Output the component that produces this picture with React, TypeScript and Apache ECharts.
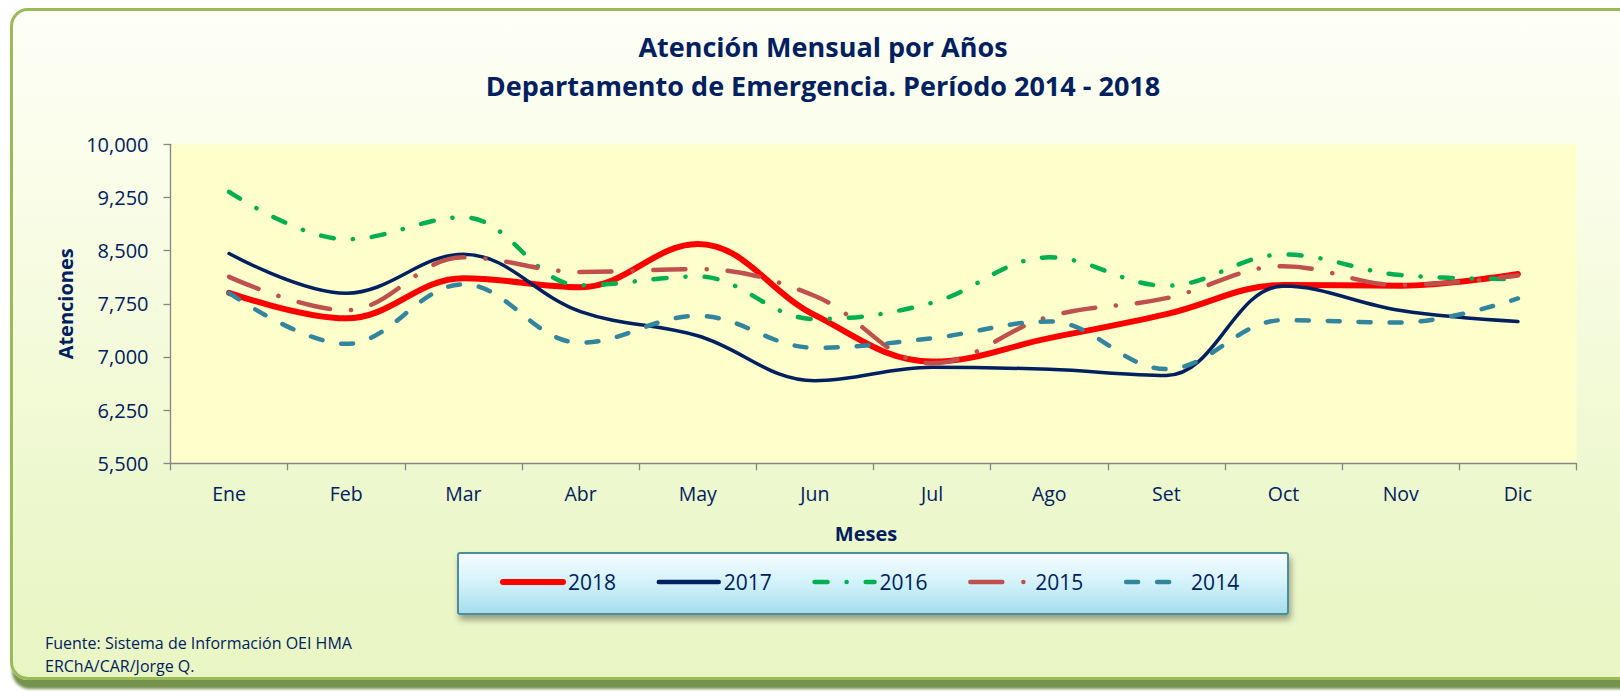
import React, { useEffect, useRef } from "react";
import * as echarts from "echarts";

const months = ["Ene", "Feb", "Mar", "Abr", "May", "Jun", "Jul", "Ago", "Set", "Oct", "Nov", "Dic"];
const seriesNames = ["2018", "2017", "2016", "2015", "2014"];
const v2018 = [7905, 7545, 8110, 7985, 8595, 7590, 6935, 7265, 7605, 8015, 8005, 8170];
const v2017 = [8460, 7900, 8450, 7640, 7300, 6665, 6855, 6825, 6740, 8000, 7655, 7500];
const v2016 = [9330, 8660, 8970, 8010, 8135, 7535, 7765, 8405, 8005, 8445, 8155, 8100];
const v2015 = [8130, 7660, 8405, 8200, 8240, 7860, 6910, 7570, 7830, 8280, 8015, 8150];
const v2014 = [7905, 7185, 8025, 7200, 7580, 7130, 7265, 7500, 6830, 7520, 7485, 7825];
const yTicks = [5500, 6250, 7000, 7750, 8500, 9250, 10000];

const titleLines = ["Atención Mensual por Años", "Departamento de Emergencia. Período 2014 - 2018"];
const sourceLines = ["Fuente: Sistema de Información OEI HMA", "ERChA/CAR/Jorge Q."];

const NAVY = "#002060";
const FONT = "'Open Sans', 'Noto Sans', sans-serif";

const styles = [
  { color: "#FF0000", width: 6, dash: "solid" as any, legendWidth: 6 },
  { color: "#002060", width: 3.5, dash: "solid" as any, legendWidth: 4.5 },
  { color: "#00B050", width: 4.5, dash: [13, 19, 0.1, 19], legendWidth: 4.5 },
  { color: "#C0504D", width: 4.5, dash: [32, 21, 0.1, 21], legendWidth: 4.5 },
  { color: "#31859C", width: 4.5, dash: [12, 19], legendWidth: 4.5 },
];
const values = [v2018, v2017, v2016, v2015, v2014];

export default function App() {
  const ref = useRef<HTMLDivElement>(null);
  useEffect(() => {
    if (!ref.current) return;
    const chart = echarts.init(ref.current, null, { renderer: "svg" });
    const option: any = {
      animation: false,
      backgroundColor: "transparent",
      title: {
        text: titleLines.join("\n"),
        left: 823,
        top: 27,
        textAlign: "center",
        padding: 0,
        textStyle: {
          color: NAVY,
          fontFamily: FONT,
          fontWeight: "bold",
          fontSize: 27,
          lineHeight: 39,
        },
      },
      grid: {
        left: 170.5,
        right: 43.5,
        top: 144.3,
        bottom: 227.7,
        show: true,
        backgroundColor: "#FFFFCC",
        borderWidth: 0,
        containLabel: false,
        outerBoundsMode: "none",
      },
      legend: {
        left: 500,
        top: 570,
        padding: 0,
        itemWidth: 60,
        itemHeight: 14,
        itemGap: 40.5,
        z: 5,
        textStyle: { color: NAVY, fontFamily: FONT, fontSize: 21, lineHeight: 24 },
        data: seriesNames.map((n, i) => ({
          name: n,
          itemStyle: { opacity: 0 },
          lineStyle: { width: styles[i].legendWidth, color: styles[i].color, type: styles[i].dash, cap: "round" },
        })),
      },
      xAxis: {
        type: "category",
        data: months,
        boundaryGap: true,
        name: "Meses",
        nameLocation: "middle",
        nameGap: 60,
        nameTextStyle: { color: NAVY, fontFamily: FONT, fontWeight: "bold", fontSize: 20, padding: [0, 15, 0, 0] },
        axisLine: { lineStyle: { color: "#868686", width: 1.3 } },
        axisTick: { show: true, length: 7, lineStyle: { color: "#868686", width: 1.3 } },
        axisLabel: { color: NAVY, fontFamily: FONT, fontSize: 19.5, margin: 20 },
        splitLine: { show: false },
      },
      yAxis: {
        type: "value",
        min: 5500,
        max: 10000,
        name: "Atenciones",
        nameLocation: "middle",
        nameGap: 95,
        nameRotate: 90,
        nameTextStyle: { color: NAVY, fontFamily: FONT, fontWeight: "bold", fontSize: 20 },
        axisLine: { show: true, lineStyle: { color: "#868686", width: 1.3 } },
        axisTick: { show: true, length: 7, customValues: yTicks, lineStyle: { color: "#868686", width: 1.3 } },
        axisLabel: {
          color: NAVY,
          fontFamily: FONT,
          fontSize: 20,
          margin: 22,
          customValues: yTicks,
          formatter: (v: number) => v.toLocaleString("en-US"),
        },
        splitLine: { show: false },
      },
      series: seriesNames.map((n, i) => ({
        name: n,
        type: "line",
        data: values[i],
        smooth: 0.38,
        symbol: "none",
        lineStyle: {
          color: styles[i].color,
          width: styles[i].width,
          type: styles[i].dash,
          cap: "round",
          join: "round",
        },
        itemStyle: { color: styles[i].color },
      })),
      graphic: [
        {
          type: "rect",
          z: 1,
          shape: { x: 458, y: 553, width: 830, height: 61, r: 2 },
          style: {
            fill: new echarts.graphic.LinearGradient(0, 0, 0, 1, [
              { offset: 0, color: "#F6FDFF" },
              { offset: 0.45, color: "#D6F3FB" },
              { offset: 1, color: "#A5DDEC" },
            ]),
            stroke: "#4D8E9E",
            lineWidth: 2,
            shadowBlur: 6,
            shadowOffsetX: 2,
            shadowOffsetY: 5,
            shadowColor: "rgba(0,0,0,0.35)",
          },
        },
        {
          type: "text",
          x: 45,
          y: 643,
          style: { text: sourceLines[0], fill: NAVY, font: `16px ${FONT}`, verticalAlign: "middle" },
        },
        {
          type: "text",
          x: 45,
          y: 666,
          style: { text: sourceLines[1], fill: NAVY, font: `16px ${FONT}`, verticalAlign: "middle" },
        },
      ],
    };
    chart.setOption(option);
    return () => chart.dispose();
  }, []);

  return (
    <div style={{ position: "fixed", left: 0, top: 0, width: 1620, height: 691, overflow: "hidden", background: "#ffffff" }}>
      <div
        style={{
          position: "absolute",
          left: 10,
          top: 8,
          width: 1630,
          height: 672,
          boxSizing: "border-box",
          border: "3px solid #9BBB59",
          borderRadius: 18,
          background: "linear-gradient(180deg, #FEFFF7 0%, #F8FCE3 35%, #EEF8CF 70%, #E9F5C3 100%)",
          boxShadow: "2px 9px 3px rgba(110,140,70,0.95)",
        }}
      />
      <div ref={ref} style={{ position: "absolute", left: 0, top: 0, width: 1620, height: 691 }} />
    </div>
  );
}
